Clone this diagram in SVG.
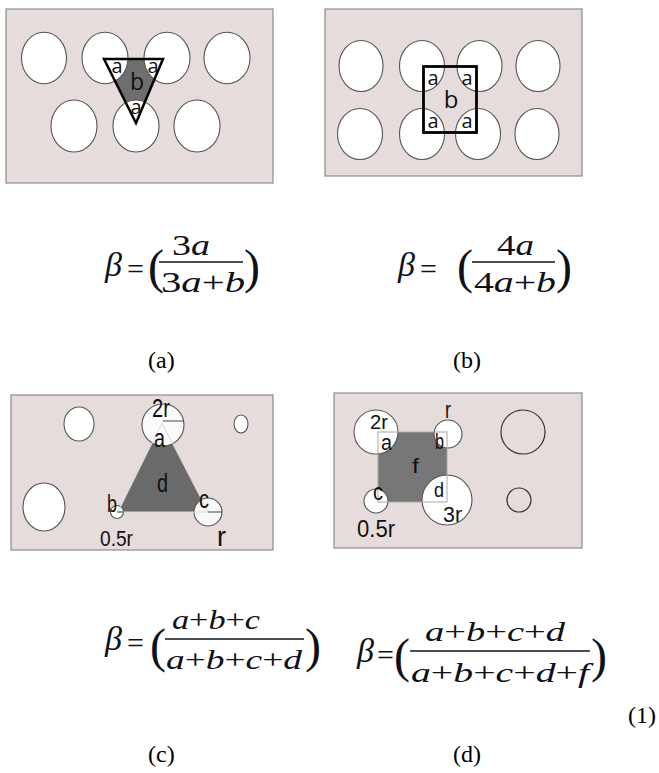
<svg xmlns="http://www.w3.org/2000/svg" width="659" height="773" viewBox="0 0 659 773">
<style>
.bg{fill:#e6dcdc;stroke:#8c8c8c;stroke-width:1.2}
.hole{fill:#fff;stroke:#555;stroke-width:1.1}
.ring{fill:none;stroke:#333;stroke-width:1.2}
.lblA{font-family:"Open Sans","DejaVu Sans",sans-serif;fill:#111}
.lblN{font-family:"Liberation Sans Narrow","Liberation Sans",sans-serif;fill:#111}
.m{font-family:"Liberation Serif","DejaVu Serif",serif;fill:#10101a}
.i{font-style:italic}
.cap{font-family:"Liberation Serif","Times New Roman",serif;font-size:24px;fill:#000}
.fl{stroke:#10101a;stroke-width:1.6}
</style>
<rect width="659" height="773" fill="#fff"/>

<g id="panel-a">
<rect class="bg" x="6" y="9" width="267" height="174"/>
<polygon points="104,59 163,59 136,123" fill="#6e6e6e"/>
<ellipse class="hole" cx="44" cy="58" rx="22.5" ry="25.7"/>
<ellipse class="hole" cx="105" cy="58" rx="23" ry="25.7"/>
<ellipse class="hole" cx="167" cy="58" rx="23" ry="25.7"/>
<ellipse class="hole" cx="227" cy="58" rx="23" ry="25.7"/>
<ellipse class="hole" cx="74" cy="126" rx="23" ry="26"/>
<ellipse class="hole" cx="136" cy="126" rx="23" ry="26"/>
<ellipse class="hole" cx="197" cy="126" rx="23" ry="26"/>
<polygon points="104,59 163,59 136,123" fill="none" stroke="#000" stroke-width="2.5"/>
<text class="lblA" x="117" y="73" font-size="20" text-anchor="middle">a</text>
<text class="lblA" x="153" y="73" font-size="20" text-anchor="middle">a</text>
<text class="lblA" x="136" y="114" font-size="20" text-anchor="middle">a</text>
<text class="lblA" x="137" y="90" font-size="23" text-anchor="middle">b</text>
</g>

<g id="panel-b">
<rect class="bg" x="325" y="9" width="257" height="167"/>
<ellipse class="hole" cx="361" cy="66" rx="22" ry="25.5"/>
<ellipse class="hole" cx="422" cy="66" rx="22.5" ry="25.5"/>
<ellipse class="hole" cx="479.5" cy="66" rx="22.5" ry="25.5"/>
<ellipse class="hole" cx="538" cy="66" rx="22" ry="25.5"/>
<ellipse class="hole" cx="360" cy="134" rx="22.5" ry="25.5"/>
<ellipse class="hole" cx="422" cy="134" rx="22.5" ry="25.5"/>
<ellipse class="hole" cx="478" cy="134" rx="22.5" ry="25.5"/>
<ellipse class="hole" cx="537" cy="134" rx="22" ry="25.5"/>
<rect x="423.5" y="66.5" width="53" height="66" fill="none" stroke="#000" stroke-width="2.8"/>
<text class="lblA" x="433" y="85" font-size="20" text-anchor="middle">a</text>
<text class="lblA" x="467" y="85" font-size="20" text-anchor="middle">a</text>
<text class="lblA" x="433" y="128" font-size="20" text-anchor="middle">a</text>
<text class="lblA" x="467" y="128" font-size="20" text-anchor="middle">a</text>
<text class="lblA" x="451" y="108" font-size="24" text-anchor="middle">b</text>
</g>

<g id="formula-a">
<text class="m i" x="105" y="276" font-size="34">β</text>
<text class="m" x="127" y="279" font-size="30">=</text>
<text class="m" x="148" y="283" font-size="48">(</text>
<text class="m" x="172" y="255" font-size="29" textLength="38" lengthAdjust="spacingAndGlyphs">3<tspan class="i">a</tspan></text>
<line class="fl" x1="159" y1="262" x2="243" y2="262"/>
<text class="m" x="161" y="292" font-size="29" textLength="84" lengthAdjust="spacingAndGlyphs">3<tspan class="i">a</tspan>+<tspan class="i">b</tspan></text>
<text class="m" x="244" y="283" font-size="48">)</text>
</g>

<g id="formula-b">
<text class="m i" x="398" y="276" font-size="34">β</text>
<text class="m" x="420" y="279" font-size="30">=</text>
<text class="m" x="457" y="283" font-size="48">(</text>
<text class="m" x="497" y="255" font-size="29" textLength="37" lengthAdjust="spacingAndGlyphs">4<tspan class="i">a</tspan></text>
<line class="fl" x1="472" y1="262" x2="555" y2="262"/>
<text class="m" x="474" y="292" font-size="29" textLength="82" lengthAdjust="spacingAndGlyphs">4<tspan class="i">a</tspan>+<tspan class="i">b</tspan></text>
<text class="m" x="556" y="283" font-size="48">)</text>
</g>

<g id="captions-ab">
<text class="cap" x="148" y="368">(a)</text>
<text class="cap" x="453" y="368">(b)</text>
</g>

<g id="panel-c">
<rect class="bg" x="11" y="395" width="262" height="155"/>
<polygon points="162,423 118,512 208,512" fill="#6a6a6a"/>
<ellipse class="hole" cx="79" cy="424" rx="15" ry="17"/>
<ellipse class="hole" cx="241" cy="424" rx="7" ry="9"/>
<ellipse class="hole" cx="44" cy="507" rx="21" ry="24"/>
<circle class="hole" cx="163" cy="425" r="21" style="fill:#fbfbfb"/>
<circle class="hole" cx="117" cy="512" r="6.5"/>
<circle class="hole" cx="208" cy="512" r="14" style="fill:#f8f8f8"/>
<polygon points="162,423 118,512 208,512" fill="none" stroke="#d8d8d8" stroke-width="1"/>
<line x1="163" y1="421" x2="184" y2="421" stroke="#444" stroke-width="1"/>
<line x1="208" y1="512" x2="222" y2="512" stroke="#444" stroke-width="1"/>
<line x1="117" y1="512" x2="124" y2="512" stroke="#444" stroke-width="1"/>
<text class="lblN" x="152" y="417" font-size="25" textLength="18" lengthAdjust="spacingAndGlyphs">2r</text>
<text class="lblN" x="154" y="447" font-size="25" textLength="11" lengthAdjust="spacingAndGlyphs">a</text>
<text class="lblN" x="157" y="492" font-size="26" textLength="11" lengthAdjust="spacingAndGlyphs">d</text>
<text class="lblN" x="107" y="512" font-size="23" textLength="10" lengthAdjust="spacingAndGlyphs">b</text>
<text class="lblN" x="199" y="508" font-size="26" textLength="10" lengthAdjust="spacingAndGlyphs">c</text>
<text class="lblN" x="100" y="546" font-size="22" textLength="33" lengthAdjust="spacingAndGlyphs">0.5r</text>
<text class="lblN" x="217" y="546" font-size="28" textLength="9" lengthAdjust="spacingAndGlyphs">r</text>
</g>

<g id="panel-d">
<rect class="bg" x="334" y="393" width="248" height="155"/>
<rect x="378" y="432" width="69" height="70" fill="#777"/>
<circle class="hole" cx="376" cy="432" r="22"/>
<circle class="hole" cx="448" cy="434" r="14"/>
<circle class="hole" cx="376" cy="501" r="12"/>
<circle class="hole" cx="447" cy="500" r="25"/>
<rect x="378" y="432" width="69" height="70" fill="none" stroke="#a8a8a8" stroke-width="1"/>
<circle class="ring" cx="523" cy="432" r="22"/>
<circle class="ring" cx="519" cy="500" r="12"/>
<text class="lblN" x="370" y="429" font-size="21" textLength="18" lengthAdjust="spacingAndGlyphs">2r</text>
<text class="lblN" x="381" y="450" font-size="22" textLength="11" lengthAdjust="spacingAndGlyphs">a</text>
<text class="lblN" x="445" y="418" font-size="23" textLength="6" lengthAdjust="spacingAndGlyphs">r</text>
<text class="lblN" x="435" y="449" font-size="22" textLength="9" lengthAdjust="spacingAndGlyphs">b</text>
<text class="lblN" x="412" y="473" font-size="21" textLength="7" lengthAdjust="spacingAndGlyphs">f</text>
<text class="lblN" x="373" y="500" font-size="24" textLength="10" lengthAdjust="spacingAndGlyphs">c</text>
<text class="lblN" x="434" y="497" font-size="21" textLength="10" lengthAdjust="spacingAndGlyphs">d</text>
<text class="lblN" x="443" y="522" font-size="22" textLength="19" lengthAdjust="spacingAndGlyphs">3r</text>
<text class="lblN" x="357" y="537" font-size="24" textLength="38" lengthAdjust="spacingAndGlyphs">0.5r</text>
</g>

<g id="formula-c">
<text class="m i" x="105" y="650" font-size="34">β</text>
<text class="m" x="127" y="653" font-size="30">=</text>
<text class="m" x="150" y="662" font-size="48">(</text>
<text class="m i" x="172" y="629" font-size="27" textLength="88" lengthAdjust="spacingAndGlyphs">a<tspan font-style="normal">+</tspan>b<tspan font-style="normal">+</tspan>c</text>
<line class="fl" x1="165" y1="639" x2="304" y2="639"/>
<text class="m i" x="166" y="669" font-size="27" textLength="136" lengthAdjust="spacingAndGlyphs">a<tspan font-style="normal">+</tspan>b<tspan font-style="normal">+</tspan>c<tspan font-style="normal">+</tspan>d</text>
<text class="m" x="305" y="662" font-size="48">)</text>
</g>

<g id="formula-d">
<text class="m i" x="357" y="662" font-size="34">β</text>
<text class="m" x="377" y="665" font-size="30">=</text>
<text class="m" x="394" y="672" font-size="48">(</text>
<text class="m i" x="425" y="641" font-size="27" textLength="140" lengthAdjust="spacingAndGlyphs">a<tspan font-style="normal">+</tspan>b<tspan font-style="normal">+</tspan>c<tspan font-style="normal">+</tspan>d</text>
<line class="fl" x1="410" y1="651" x2="590" y2="651"/>
<text class="m i" x="411" y="682" font-size="27" textLength="178" lengthAdjust="spacingAndGlyphs">a<tspan font-style="normal">+</tspan>b<tspan font-style="normal">+</tspan>c<tspan font-style="normal">+</tspan>d<tspan font-style="normal">+</tspan>f</text>
<text class="m" x="591" y="672" font-size="48">)</text>
</g>

<g id="captions-cd">
<text class="cap" x="628" y="723">(1)</text>
<text class="cap" x="148" y="762">(c)</text>
<text class="cap" x="453" y="762">(d)</text>
</g>
</svg>
